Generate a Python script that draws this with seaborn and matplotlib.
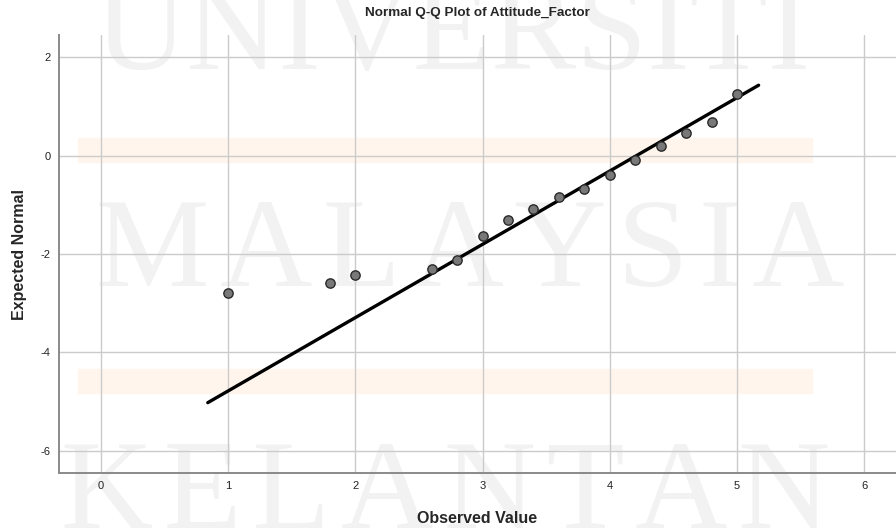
import numpy as np
import pandas as pd
import matplotlib
matplotlib.use('Agg')
import matplotlib.pyplot as plt
import seaborn as sns

# Q-Q points
observed = [1.0, 1.8, 2.0, 2.6, 2.8, 3.0, 3.2, 3.4, 3.6, 3.8, 4.0, 4.2, 4.4, 4.6, 4.8, 5.0]
expected = [-2.80, -2.58, -2.43, -2.31, -2.13, -1.64, -1.31, -1.08, -0.85, -0.67,
            -0.39, -0.08, 0.20, 0.46, 0.68, 1.25]

# reference line endpoints
line_x = [0.84, 5.17]
line_y = [-5.02, 1.43]

x_ticks = [0, 1, 2, 3, 4, 5, 6]
y_ticks = [-6, -4, -2, 0, 2]

title = 'Normal Q-Q Plot of Attitude_Factor'
x_label = 'Observed Value'
y_label = 'Expected Normal'
watermark = ['UNIVERSITI', 'MALAYSIA', 'KELANTAN']

sns.set_style('white')
plt.rcParams['font.family'] = ['Liberation Sans', 'DejaVu Sans']
plt.rcParams['axes.unicode_minus'] = False

pts = pd.DataFrame({'Observed Value': observed, 'Expected Normal': expected})
ref = pd.DataFrame({'x': line_x, 'y': line_y})

fig = plt.figure(figsize=(8.96, 5.30), dpi=100)
ax = fig.add_axes([0.0658, 0.1075, 0.9342, 0.8264])
ax.set_facecolor('none')

# faint watermark behind the plot
wm_pos = [(0.505, 0.928), (0.525, 0.518), (0.497, 0.062)]
wm_gap = ['', '\u200a', '\u200a']
for txt, gap, (wx, wy) in zip(watermark, wm_gap, wm_pos):
    fig.text(wx, wy, gap.join(txt), ha='center', va='center', fontsize=92,
             family=['Liberation Serif', 'DejaVu Serif'], color='#f2f2f2', zorder=-5)
for yb in [150, 381]:
    fig.patches.append(plt.Rectangle((78 / 896, 1 - (yb + 12) / 530), (812 - 78) / 896, 24 / 530,
                                     transform=fig.transFigure, color='#fff5ec', zorder=-4))

ax.grid(True, color='#cbcbcb', linewidth=1.0)
ax.set_axisbelow(True)

sns.lineplot(data=ref, x='x', y='y', ax=ax, color='black', linewidth=2.4, zorder=3)
sns.scatterplot(data=pts, x='Observed Value', y='Expected Normal', ax=ax, s=45,
                color='#787878', edgecolor='#2a2a2a', linewidth=1.0, zorder=4)

ax.set_xlim(-0.33, 6.25)
ax.set_ylim(-6.45, 2.45)
ax.set_xticks(x_ticks)
ax.set_yticks(y_ticks)
ax.tick_params(axis='both', length=0, labelsize=8, pad=6, colors='#222222')

for s in ['top', 'right']:
    ax.spines[s].set_visible(False)
for s in ['left', 'bottom']:
    ax.spines[s].set_color('#8a8a8a')
    ax.spines[s].set_linewidth(1.4)

ax.set_title(title, fontsize=9.7, fontweight='bold', pad=14)
ax.set_xlabel(x_label, fontsize=11.5, fontweight='bold', labelpad=14)
ax.set_ylabel(y_label, fontsize=11.5, fontweight='bold', labelpad=10)

fig.savefig('out.png', dpi=100)
